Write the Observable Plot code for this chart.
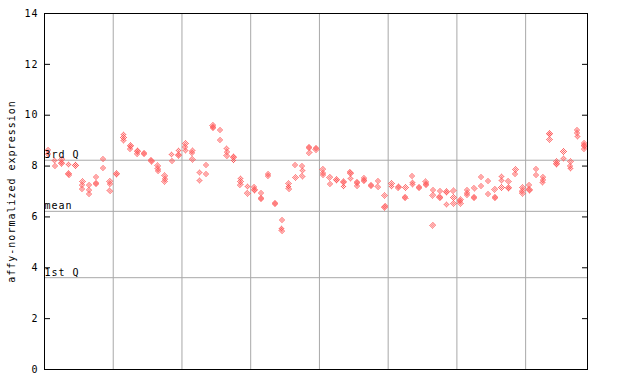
<!DOCTYPE html>
<html><head><meta charset="utf-8">
<script src="https://cdn.jsdelivr.net/npm/d3@7"></script>
<script src="https://cdn.jsdelivr.net/npm/@observablehq/plot@0.6"></script>
<style>
body{margin:0;background:#fff;}
#chart svg text{letter-spacing:1px;}
</style></head><body><div id="chart"></div>
<script>
// expression values per sample (each sample has 2-4 measurements)
const sampleValues = [
  [8.62, 8.47], [8.22, 8.0], [8.27, 8.15, 8.11], [8.07, 7.72, 7.65], [8.06, 8.02],
  [7.4, 7.25, 7.1], [7.25, 7.05, 6.9], [7.56, 7.34, 7.30], [8.29, 7.91], [7.4, 7.3, 7.03],
  [7.70, 7.66], [9.25, 9.12, 9.02], [8.80, 8.76, 8.67], [8.62, 8.58, 8.48], [8.52, 8.48],
  [8.22, 8.18], [8.02, 7.9, 7.82], [7.62, 7.5, 7.4], [8.45, 8.2], [8.62, 8.47, 8.43],
  [8.88, 8.75, 8.6], [8.6, 8.52, 8.27], [7.75, 7.43], [8.04, 7.7], [9.6, 9.54, 9.50],
  [9.42, 9.03], [8.68, 8.55, 8.4], [8.39, 8.35, 8.22], [7.52, 7.4, 7.26], [7.2, 6.93],
  [7.18, 7.08, 7.04], [6.93, 6.75, 6.69], [7.68, 7.62], [6.55, 6.51], [5.88, 5.55, 5.45],
  [7.3, 7.2, 7.1], [8.04, 7.56], [8.0, 7.82, 7.6], [8.75, 8.71, 8.53], [8.72, 8.65],
  [7.87, 7.72, 7.65], [7.56, 7.3], [7.48, 7.44], [7.41, 7.37, 7.2], [7.76, 7.72, 7.5],
  [7.37, 7.33, 7.22], [7.52, 7.44, 7.40], [7.25, 7.21], [7.42, 7.19], [6.85, 6.42, 6.38],
  [7.32, 7.2], [7.18, 7.14], [7.16, 6.78, 6.74], [7.61, 7.35, 7.28], [7.17, 7.13],
  [7.39, 7.28, 7.24], [7.06, 6.85, 5.67], [7.02, 6.79, 6.75], [7.01, 6.97, 6.5], [7.02, 6.77, 6.54],
  [6.67, 6.63, 6.54], [7.06, 6.95, 6.86], [7.12, 6.79, 6.75], [7.58, 7.22], [7.41, 6.9],
  [7.09, 6.78, 6.74], [7.58, 7.42, 7.16], [7.41, 7.17, 7.13], [7.87, 7.69], [7.16, 7.03, 6.93],
  [7.26, 7.08, 7.04], [7.87, 7.64], [7.58, 7.46, 7.35], [9.28, 9.24, 9.05], [8.17, 8.09, 8.05],
  [8.57, 8.31], [8.17, 8.0, 7.91], [9.42, 9.3, 9.16], [8.9, 8.81, 8.77, 8.66]
];
const yTicks = [0, 2, 4, 6, 8, 10, 12, 14];
const gridSamples = [10, 20, 30, 40, 50, 60, 70];
const quartileLabels = ["3rd Q", "mean", "1st Q"];
const quartileValues = [8.23, 6.22, 3.61];
const yTitle = "affy-normalized expression";

const W = 640, H = 384, mL = 44, mR = 53, mT = 13, mB = 15;
const frameW = W - mL - mR;
const red = "#ff5555", grid = "#a8a8a8";

const points = sampleValues.flatMap((vals, i) => vals.map(v => ({sample: i + 0.5, value: v})));
const yPix = d3.scaleLinear([0, 14], [H - mB, mT]);
const parity = d => ((Math.round(yPix(d.value)) % 2) + 2) % 2;
const quart = quartileValues.map((v, i) => ({value: v, label: quartileLabels[i]}));

const plot = Plot.plot({
  width: W, height: H,
  marginLeft: mL, marginRight: mR, marginTop: mT, marginBottom: mB,
  x: {domain: [0, sampleValues.length], axis: null},
  y: {domain: [0, 14], axis: null},
  style: {fontFamily: "'DejaVu Sans Mono', monospace", fontSize: "10px", background: "white", color: "black"},
  marks: [
    Plot.ruleX(gridSamples, {x: d => d, stroke: grid}),
    Plot.ruleY(quart, {y: "value", stroke: grid}),
    Plot.dot(points, {filter: d => parity(d) === 0, x: "sample", y: "value", symbol: "diamond2", r: 3.2, fill: "#ff0001"}),
    Plot.dot(points, {filter: d => parity(d) === 1, x: "sample", y: "value", symbol: "diamond2", r: 3.2, fill: "#ff0002"}),
    Plot.frame({stroke: "black"}),
    Plot.ruleY(yTicks, {y: d => d, stroke: "black", insetRight: frameW - 6}),
    Plot.ruleY(yTicks, {y: d => d, stroke: "black", insetLeft: frameW - 5}),
    Plot.text(yTicks, {y: d => d, text: d => String(d), frameAnchor: "left", textAnchor: "end", dx: -6, fill: "black"}),
    Plot.text(quart, {y: "value", text: "label", frameAnchor: "left", textAnchor: "start", lineAnchor: "bottom", dy: -2, fill: "black"}),
    Plot.text([yTitle], {text: d => d, frameAnchor: "left", textAnchor: "middle", rotate: -90, dx: -33, lineAnchor: "middle", fill: "black"})
  ]
});

const svg = d3.select(plot);
const defs = svg.insert("defs", ":first-child");
["#ff0001", "#ff0002"].forEach((c, k) => {
  const g = svg.selectAll("g").filter(function() { return this.getAttribute("fill") === c; });
  let tx = 0, ty = 0;
  const tr = g.attr("transform");
  if (tr) {
    const m = /translate\(\s*([-\d.]+)[\s,]+([-\d.]+)\s*\)/.exec(tr);
    if (m) { tx = +m[1]; ty = +m[2]; }
  }
  const id = "chk" + k;
  const p = defs.append("pattern").attr("id", id).attr("patternUnits", "userSpaceOnUse")
    .attr("width", 2).attr("height", 2).attr("x", -tx).attr("y", -ty);
  const cells = k === 0 ? [[0, 0], [1, 1]] : [[1, 0], [0, 1]];
  cells.forEach(([x, y]) => p.append("rect").attr("x", x).attr("y", y).attr("width", 1).attr("height", 1).attr("fill", red));
  g.attr("fill", `url(#${id})`).attr("shape-rendering", "crispEdges");
});

document.getElementById("chart").appendChild(plot);
</script></body></html>
